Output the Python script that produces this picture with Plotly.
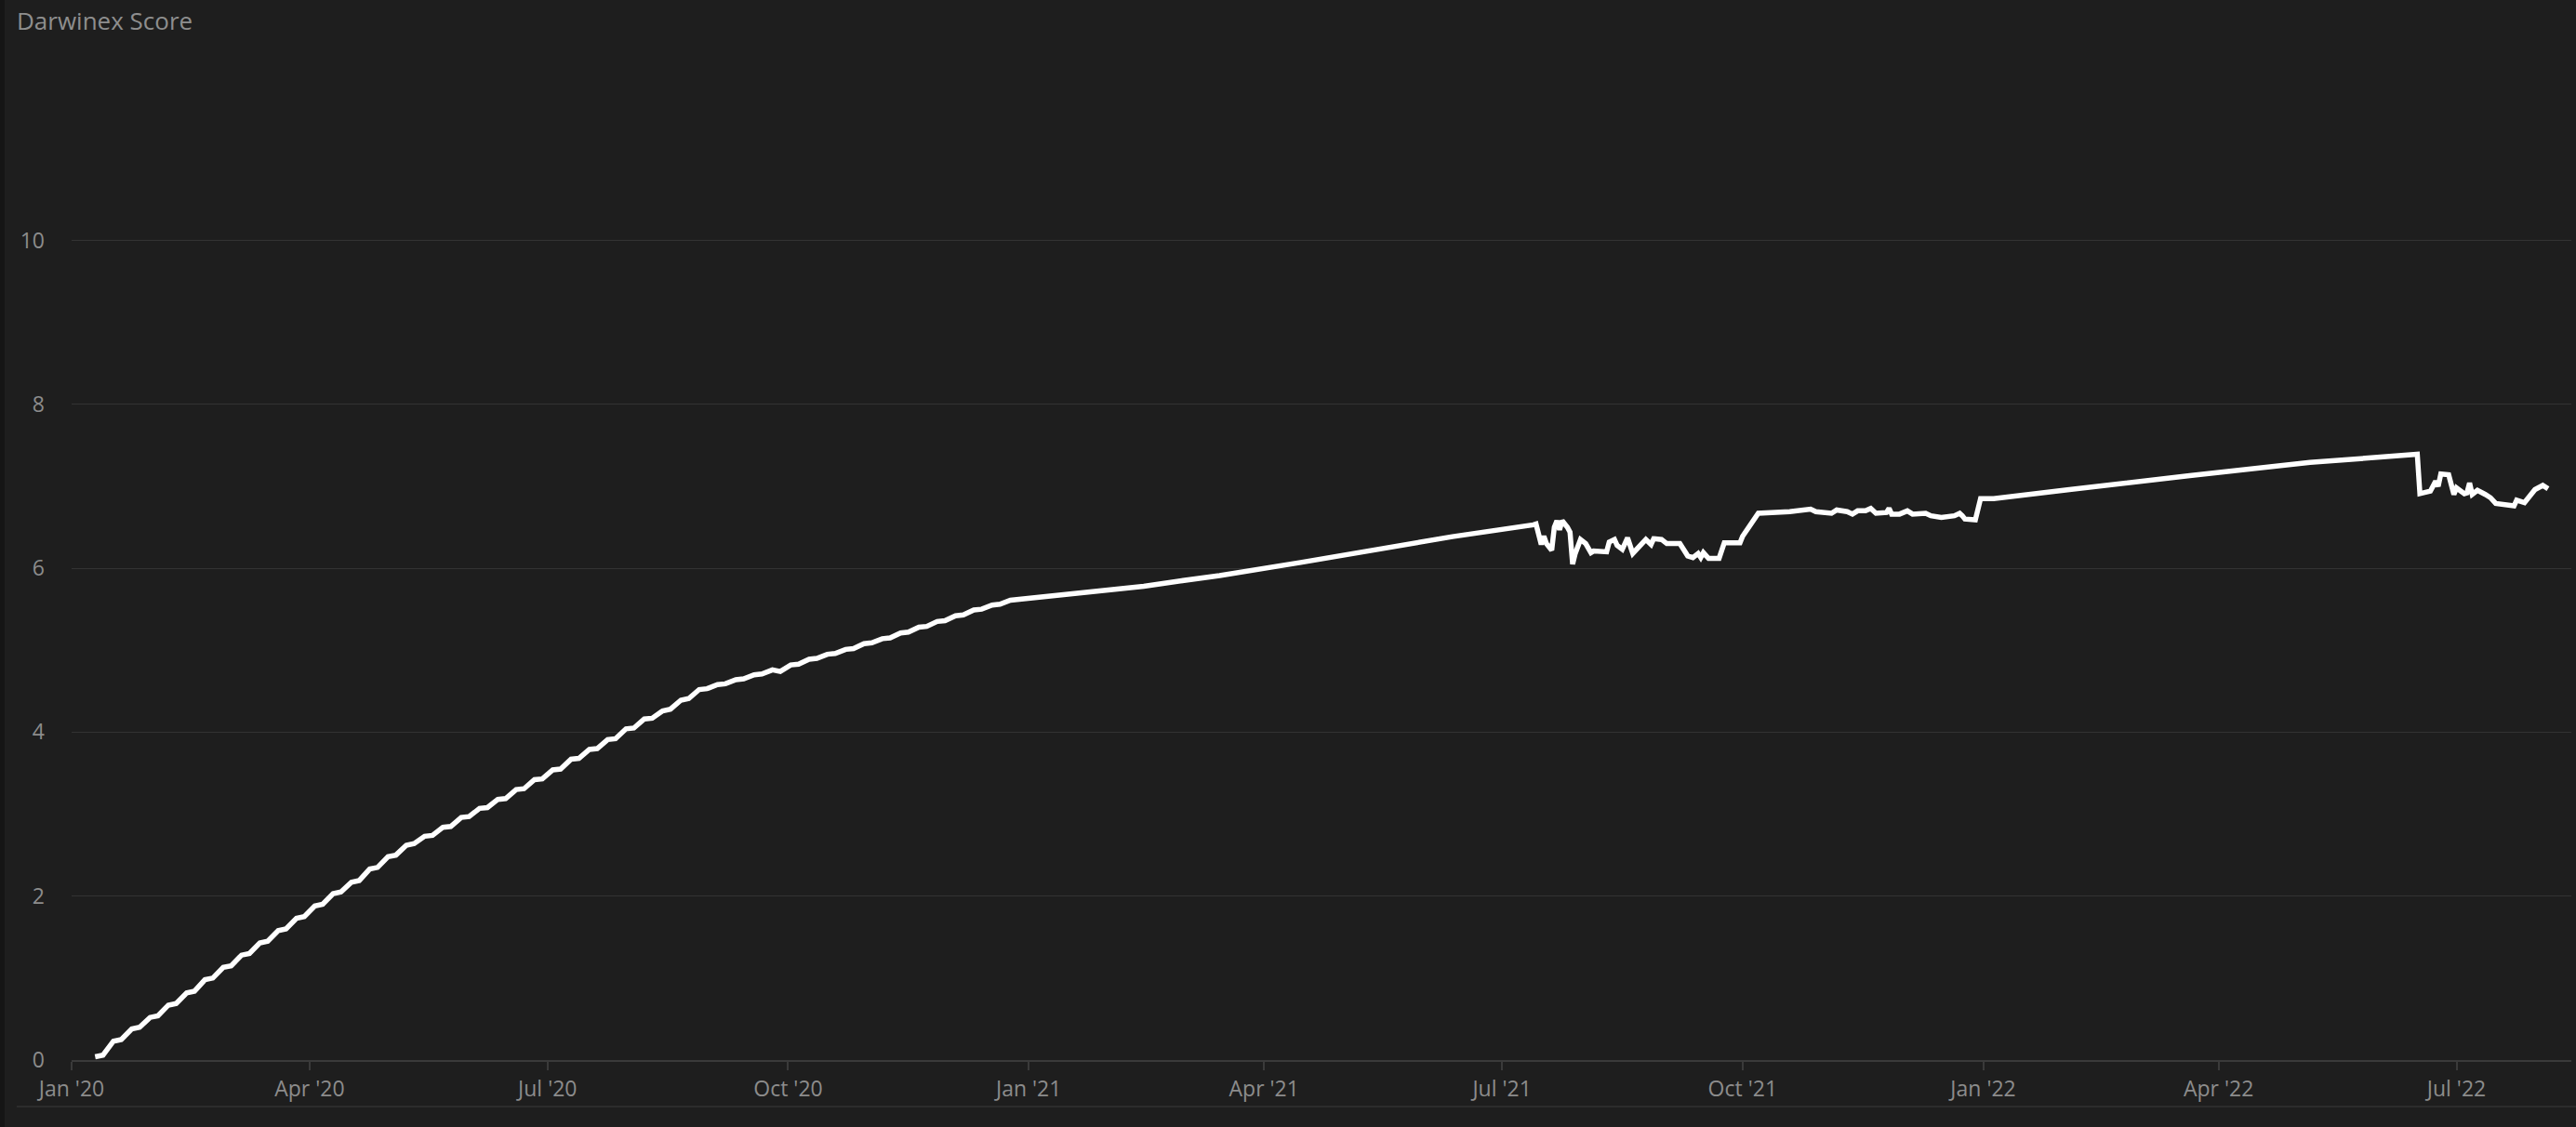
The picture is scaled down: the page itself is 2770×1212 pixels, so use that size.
import plotly.graph_objects as go

# 2020: weekly ramp, the score climbs Mon-Fri and barely moves over the weekend
ramp_dates = [
    "2020-01-10", "2020-01-13", "2020-01-17", "2020-01-20", "2020-01-24", "2020-01-27",
    "2020-01-31", "2020-02-03", "2020-02-07", "2020-02-10", "2020-02-14", "2020-02-17",
    "2020-02-21", "2020-02-24", "2020-02-28", "2020-03-02", "2020-03-06", "2020-03-09",
    "2020-03-13", "2020-03-16", "2020-03-20", "2020-03-23", "2020-03-27", "2020-03-30",
    "2020-04-03", "2020-04-06", "2020-04-10", "2020-04-13", "2020-04-17", "2020-04-20",
    "2020-04-24", "2020-04-27", "2020-05-01", "2020-05-04", "2020-05-08", "2020-05-11",
    "2020-05-15", "2020-05-18", "2020-05-22", "2020-05-25", "2020-05-29", "2020-06-01",
    "2020-06-05", "2020-06-08", "2020-06-12", "2020-06-15", "2020-06-19", "2020-06-22",
    "2020-06-26", "2020-06-29", "2020-07-03", "2020-07-06", "2020-07-10", "2020-07-13",
    "2020-07-17", "2020-07-20", "2020-07-24", "2020-07-27", "2020-07-31", "2020-08-03",
    "2020-08-07", "2020-08-10", "2020-08-14", "2020-08-17", "2020-08-21", "2020-08-24",
    "2020-08-28", "2020-08-31", "2020-09-04", "2020-09-07", "2020-09-11", "2020-09-14",
    "2020-09-18", "2020-09-21", "2020-09-25", "2020-09-28", "2020-10-02", "2020-10-05",
    "2020-10-09", "2020-10-12", "2020-10-16", "2020-10-19", "2020-10-23", "2020-10-26",
    "2020-10-30", "2020-11-02", "2020-11-06", "2020-11-09", "2020-11-13", "2020-11-16",
    "2020-11-20", "2020-11-23", "2020-11-27", "2020-11-30", "2020-12-04", "2020-12-07",
    "2020-12-11", "2020-12-14", "2020-12-18", "2020-12-21", "2020-12-25", "2020-12-28",
]
ramp_scores = [
    0.04, 0.06, 0.23, 0.25, 0.38, 0.40,
    0.52, 0.54, 0.67, 0.69, 0.82, 0.84,
    0.98, 1.00, 1.13, 1.15, 1.28, 1.30,
    1.43, 1.45, 1.58, 1.60, 1.73, 1.75,
    1.88, 1.90, 2.03, 2.05, 2.17, 2.19,
    2.33, 2.35, 2.48, 2.50, 2.62, 2.64,
    2.73, 2.74, 2.84, 2.85, 2.96, 2.97,
    3.07, 3.08, 3.18, 3.19, 3.30, 3.31,
    3.42, 3.43, 3.54, 3.55, 3.67, 3.68,
    3.79, 3.80, 3.91, 3.92, 4.04, 4.05,
    4.16, 4.17, 4.26, 4.28, 4.39, 4.41,
    4.52, 4.53, 4.58, 4.59, 4.64, 4.65,
    4.70, 4.71, 4.76, 4.74, 4.82, 4.83,
    4.89, 4.90, 4.95, 4.96, 5.01, 5.02,
    5.08, 5.09, 5.14, 5.15, 5.21, 5.22,
    5.28, 5.29, 5.35, 5.36, 5.42, 5.43,
    5.49, 5.50, 5.55, 5.56, 5.61, 5.62,
]

# first half of 2021: slow drift
drift_dates = ["2021-01-01", "2021-01-16", "2021-01-30", "2021-02-14", "2021-02-28",
               "2021-03-15", "2021-04-15", "2021-05-14", "2021-06-12", "2021-07-13"]
drift_scores = [5.63, 5.675, 5.725, 5.78, 5.845, 5.91, 6.07, 6.23, 6.385, 6.53]

# summer 2021 volatility
summer_dates = [
    "2021-07-14", "2021-07-16", "2021-07-17", "2021-07-18", "2021-07-20", "2021-07-21",
    "2021-07-22", "2021-07-23", "2021-07-24", "2021-07-26", "2021-07-27", "2021-07-28",
    "2021-07-29", "2021-07-31", "2021-08-02", "2021-08-04", "2021-08-05", "2021-08-10",
    "2021-08-11", "2021-08-13", "2021-08-14", "2021-08-16", "2021-08-18", "2021-08-20",
    "2021-08-22", "2021-08-24", "2021-08-25", "2021-08-27", "2021-08-28", "2021-08-31",
    "2021-09-02", "2021-09-07", "2021-09-10", "2021-09-12", "2021-09-14", "2021-09-15",
    "2021-09-16", "2021-09-18", "2021-09-22", "2021-09-24", "2021-09-30", "2021-10-01",
    "2021-10-05", "2021-10-07",
]
summer_scores = [
    6.54, 6.29, 6.39, 6.30, 6.22, 6.50,
    6.58, 6.47, 6.58, 6.50, 6.44, 6.05,
    6.18, 6.35, 6.30, 6.19, 6.21, 6.20,
    6.32, 6.35, 6.28, 6.23, 6.37, 6.18,
    6.24, 6.30, 6.35, 6.29, 6.36, 6.35,
    6.30, 6.30, 6.15, 6.13, 6.18, 6.13,
    6.19, 6.12, 6.12, 6.31, 6.31, 6.39,
    6.57, 6.67,
]

# end of 2021
late_dates = [
    "2021-10-19", "2021-10-27", "2021-10-29", "2021-11-02", "2021-11-04", "2021-11-06",
    "2021-11-10", "2021-11-12", "2021-11-14", "2021-11-17", "2021-11-19", "2021-11-21",
    "2021-11-25", "2021-11-26", "2021-11-27", "2021-11-30", "2021-12-03", "2021-12-05",
    "2021-12-08", "2021-12-10", "2021-12-12", "2021-12-16", "2021-12-21", "2021-12-23",
    "2021-12-24", "2021-12-25", "2021-12-29", "2021-12-31",
]
late_scores = [
    6.69, 6.72, 6.69, 6.67, 6.67, 6.71,
    6.69, 6.66, 6.70, 6.70, 6.73, 6.67,
    6.68, 6.73, 6.66, 6.66, 6.70, 6.66,
    6.66, 6.67, 6.64, 6.62, 6.64, 6.67,
    6.64, 6.60, 6.59, 6.85,
]

# 2022
y22_dates = [
    "2022-01-05", "2022-01-17", "2022-02-03", "2022-03-21", "2022-05-06", "2022-06-16",
    "2022-06-17", "2022-06-21", "2022-06-23", "2022-06-24", "2022-06-25", "2022-06-28",
    "2022-06-30", "2022-07-01", "2022-07-04", "2022-07-05", "2022-07-06", "2022-07-07",
    "2022-07-09", "2022-07-12", "2022-07-14", "2022-07-16", "2022-07-20", "2022-07-23",
    "2022-07-24", "2022-07-27", "2022-07-29", "2022-07-31", "2022-08-03", "2022-08-05",
]
y22_scores = [
    6.85, 6.89, 6.96, 7.13, 7.29, 7.39,
    6.91, 6.94, 7.06, 7.00, 7.15, 7.14,
    6.90, 6.98, 6.91, 6.92, 7.04, 6.90,
    6.95, 6.90, 6.86, 6.79, 6.78, 6.76,
    6.83, 6.80, 6.88, 6.96, 7.01, 6.97,
]

y_ticks = [0, 2, 4, 6, 8, 10]

BG = "#1e1e1e"
TEXT = "#8c8c8c"
GRID = "#333333"
AXIS = "#3a3a3a"

dates = ramp_dates + drift_dates + summer_dates + late_dates + y22_dates
scores = ramp_scores + drift_scores + summer_scores + late_scores + y22_scores

fig = go.Figure()
fig.add_trace(go.Scatter(
    x=dates,
    y=scores,
    mode="lines",
    line=dict(color="#ffffff", width=5.5),
    name="Darwinex Score",
))

fig.update_layout(
    width=2770,
    height=1212,
    paper_bgcolor=BG,
    plot_bgcolor=BG,
    showlegend=False,
    margin=dict(l=77, r=5, t=40, b=72),
    font=dict(family="Open Sans", color=TEXT),
    title=dict(
        text="Darwinex Score",
        x=18 / 2770, xref="container", xanchor="left",
        y=1 - 23 / 1212, yref="container", yanchor="middle",
        font=dict(size=26, color="#8e8e8e", family="Open Sans"),
    ),
    xaxis=dict(
        type="date",
        range=["2020-01-01", "2022-08-13 22:00"],
        tick0="2020-01-01",
        dtick="M3",
        tickformat="%b '%y",
        showgrid=False,
        zeroline=False,
        showline=True,
        linecolor=AXIS,
        linewidth=2,
        ticks="outside",
        ticklen=9,
        tickwidth=2,
        tickcolor=AXIS,
        tickfont=dict(size=23, color=TEXT),
    ),
    yaxis=dict(
        range=[0, 12.478],
        tickvals=y_ticks,
        showgrid=True,
        gridcolor=GRID,
        gridwidth=1,
        zeroline=False,
        showline=False,
        ticks="",
        ticklabelstandoff=28,
        tickfont=dict(size=23, color=TEXT),
    ),
    shapes=[
        # darker strip on the left edge of the panel
        dict(type="rect", xref="paper", yref="paper",
             x0=-77 / 2688, x1=-72 / 2688, y0=-72 / 1100, y1=1 + 40 / 1100,
             fillcolor="#151515", line=dict(width=0), layer="below"),
        # thin separator under the date labels
        dict(type="line", xref="paper", yref="paper",
             x0=-59 / 2688, x1=1 + 5 / 2688, y0=-50 / 1100, y1=-50 / 1100,
             line=dict(color="#2c2c2c", width=2)),
    ],
)

# drop the browser's default body margin so the figure sits at the page corner
fig.write_html(
    "out.html",
    config={"displayModeBar": False},
    post_script="document.body.style.margin='0';",
)
